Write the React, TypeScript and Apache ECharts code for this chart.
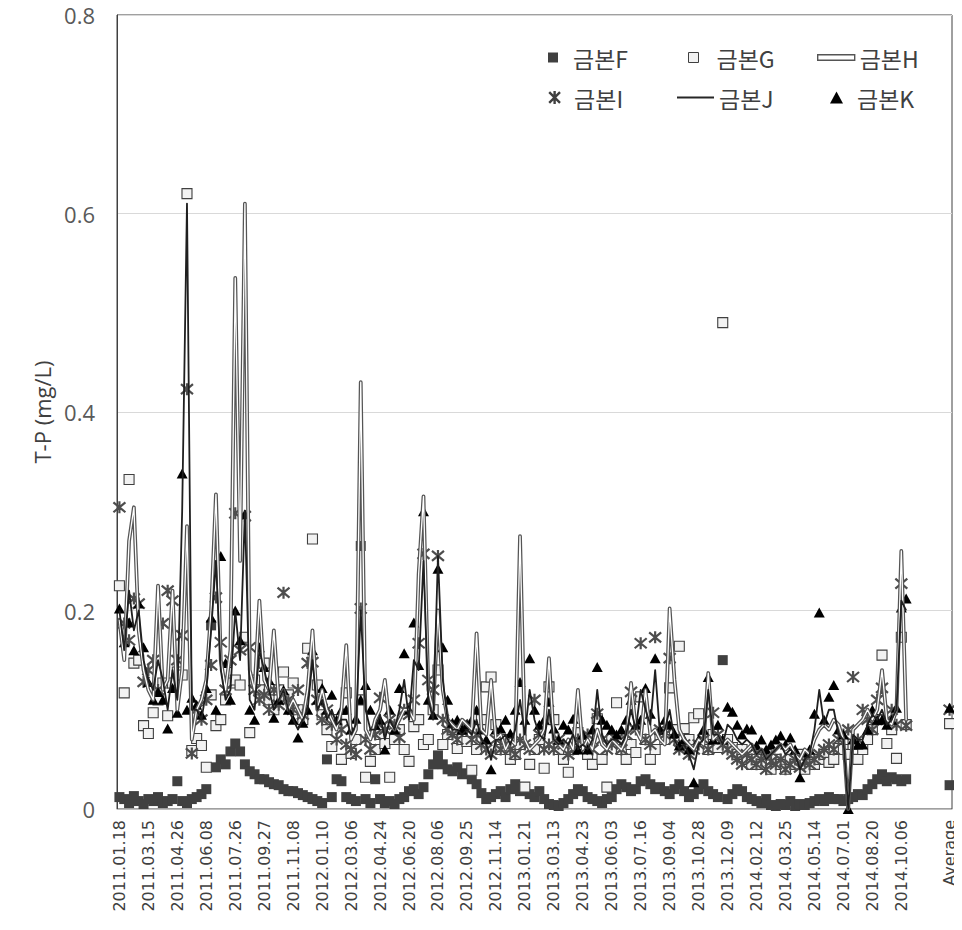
import React, { useEffect, useRef } from 'react';
import * as echarts from 'echarts';

// x-axis tick labels (one every 6 sampling dates) and the final "Average" category
const tickLabels = [
  '2011.01.18', '2011.03.15', '2011.04.26', '2011.06.08', '2011.07.26', '2011.09.27', '2011.11.08',
  '2012.01.10', '2012.03.06', '2012.04.24', '2012.06.20', '2012.08.06', '2012.09.25', '2012.11.14',
  '2013.01.21', '2013.03.13', '2013.04.23', '2013.06.03', '2013.07.16', '2013.09.04', '2013.10.28',
  '2013.12.09', '2014.02.12', '2014.03.25', '2014.05.14', '2014.07.01', '2014.08.20', '2014.10.06',
];
const averageLabel = 'Average';
const labelStep = 6;
const averageIndex = 172;

const seriesNames = ['금본F', '금본G', '금본H', '금본I', '금본J', '금본K'];

const valuesF = [
  0.012, 0.01, 0.006, 0.013, 0.008, 0.005,
  0.01, 0.008, 0.012, 0.006, 0.008, 0.01,
  0.028, 0.008, 0.006, 0.01, 0.012, 0.015,
  0.02, 0.185, 0.042, 0.05, 0.045, 0.058,
  0.066, 0.058, 0.045, 0.038, 0.035, 0.03,
  0.03, 0.027, 0.025, 0.024, 0.02, 0.018,
  0.018, 0.016, 0.014, 0.012, 0.01, 0.008,
  0.006, 0.05, 0.012, 0.03, 0.028, 0.012,
  0.01, 0.008, 0.265, 0.01, 0.006, 0.03,
  0.01, 0.006, 0.008, 0.005, 0.01, 0.012,
  0.018, 0.02, 0.015, 0.022, 0.035, 0.045,
  0.054, 0.045, 0.04, 0.038, 0.042, 0.035,
  0.036, 0.03, 0.025, 0.016, 0.01, 0.012,
  0.015, 0.018, 0.012, 0.02, 0.025, 0.018,
  0.02, 0.015, 0.012, 0.018, 0.01, 0.005,
  0.004, 0.003, 0.006, 0.01, 0.015, 0.02,
  0.018, 0.012, 0.01, 0.008, 0.006, 0.01,
  0.012, 0.02, 0.025, 0.022, 0.018, 0.02,
  0.028, 0.03, 0.025, 0.02, 0.022, 0.018,
  0.015, 0.02, 0.025, 0.018, 0.012, 0.015,
  0.02, 0.025, 0.018, 0.015, 0.012, 0.15,
  0.01, 0.015, 0.02, 0.018, 0.012, 0.01,
  0.008, 0.006, 0.01, 0.004, 0.003, 0.005,
  0.004, 0.008, 0.003, 0.005, 0.004, 0.006,
  0.008, 0.01, 0.008, 0.012, 0.01, 0.01,
  0.008, 0.01, 0.012, 0.015, 0.014, 0.02,
  0.025, 0.03, 0.035, 0.028, 0.032, 0.03,
  0.028, 0.03,
];

const valuesG = [
  0.225, 0.117, 0.332, 0.147, 0.15, 0.084,
  0.076, 0.097, 0.11, 0.127, 0.094, 0.127,
  0.138, 0.135, 0.62, 0.059, 0.071, 0.064,
  0.042, 0.115, 0.084, 0.09, 0.11, 0.127,
  0.13, 0.125, 0.173, 0.077, 0.13, 0.12,
  0.147, 0.11, 0.1, 0.12, 0.138, 0.115,
  0.127, 0.1, 0.09, 0.162, 0.272, 0.125,
  0.095, 0.08, 0.063, 0.09, 0.05, 0.117,
  0.056, 0.07, 0.11, 0.032, 0.048, 0.06,
  0.075, 0.066, 0.032, 0.07, 0.08, 0.06,
  0.048, 0.083, 0.09, 0.065, 0.07, 0.1,
  0.14, 0.065, 0.075, 0.08, 0.061, 0.07,
  0.068, 0.039, 0.06, 0.09, 0.123, 0.133,
  0.085, 0.06, 0.07, 0.05, 0.055, 0.065,
  0.022, 0.045, 0.06, 0.07, 0.041, 0.123,
  0.09, 0.06, 0.05, 0.037, 0.06, 0.077,
  0.065, 0.055, 0.045, 0.091, 0.05, 0.022,
  0.07, 0.107, 0.06, 0.05, 0.065, 0.057,
  0.113, 0.07, 0.05, 0.06, 0.075, 0.07,
  0.122, 0.08, 0.164, 0.081, 0.07, 0.092,
  0.096, 0.07, 0.06, 0.075, 0.062, 0.49,
  0.07, 0.062, 0.055, 0.06, 0.05, 0.045,
  0.05, 0.045, 0.055, 0.04, 0.05, 0.045,
  0.04, 0.05, 0.045, 0.055, 0.04, 0.05,
  0.045, 0.05, 0.055, 0.047, 0.05, 0.061,
  0.06, 0.055, 0.065, 0.05, 0.06, 0.07,
  0.08, 0.09, 0.155, 0.066, 0.08, 0.051,
  0.173, 0.085,
];

const valuesH = [
  0.19, 0.15, 0.27, 0.304, 0.18, 0.14,
  0.12, 0.11, 0.225, 0.12, 0.13, 0.22,
  0.1, 0.14, 0.285, 0.07, 0.1, 0.11,
  0.13, 0.2, 0.317, 0.15, 0.12, 0.16,
  0.535, 0.25, 0.61, 0.14, 0.12, 0.21,
  0.13, 0.12, 0.18, 0.11, 0.12, 0.1,
  0.11, 0.1, 0.09, 0.12, 0.18, 0.1,
  0.12, 0.1, 0.09, 0.08, 0.1, 0.165,
  0.07, 0.08, 0.43, 0.08, 0.07, 0.09,
  0.1, 0.13, 0.085, 0.08, 0.09, 0.1,
  0.1, 0.09, 0.237, 0.315, 0.12, 0.1,
  0.2, 0.12, 0.09, 0.085, 0.08, 0.09,
  0.085, 0.08, 0.177, 0.08, 0.075, 0.13,
  0.07, 0.075, 0.06, 0.07, 0.065, 0.275,
  0.07, 0.06, 0.065, 0.07, 0.08, 0.152,
  0.07, 0.065, 0.06, 0.07, 0.06, 0.12,
  0.06, 0.07, 0.06, 0.08, 0.065, 0.06,
  0.07, 0.065, 0.06, 0.07, 0.127, 0.08,
  0.07, 0.12, 0.075, 0.08, 0.07, 0.065,
  0.202, 0.13, 0.08, 0.07, 0.065, 0.06,
  0.07, 0.065, 0.137, 0.07, 0.075, 0.065,
  0.07, 0.065, 0.06, 0.055, 0.06, 0.065,
  0.055, 0.06, 0.05, 0.055, 0.06, 0.065,
  0.06, 0.065, 0.055, 0.05, 0.06, 0.055,
  0.07, 0.08, 0.085, 0.08, 0.09, 0.085,
  0.07, 0.0, 0.08, 0.085, 0.09, 0.1,
  0.09, 0.1, 0.14, 0.09, 0.085, 0.1,
  0.26, 0.09,
];

const valuesI = [
  0.304, 0.187, 0.17, 0.212, 0.207, 0.128,
  0.14, 0.15, 0.12, 0.187, 0.22, 0.21,
  0.15, 0.175, 0.423, 0.056, 0.1, 0.09,
  0.11, 0.145, 0.213, 0.168, 0.12, 0.15,
  0.298, 0.16, 0.295, 0.163, 0.12, 0.11,
  0.115, 0.1, 0.12, 0.105, 0.218, 0.11,
  0.1, 0.12, 0.095, 0.147, 0.148, 0.11,
  0.09, 0.1, 0.085, 0.07, 0.08, 0.065,
  0.06, 0.055, 0.202, 0.07, 0.06, 0.075,
  0.112, 0.08, 0.09, 0.085, 0.072, 0.1,
  0.095, 0.11, 0.167, 0.257, 0.13, 0.12,
  0.255, 0.09, 0.08, 0.075, 0.07, 0.085,
  0.08, 0.07, 0.075, 0.065, 0.06, 0.055,
  0.07, 0.06, 0.065, 0.06, 0.055, 0.07,
  0.065, 0.06, 0.11, 0.075, 0.06, 0.065,
  0.06, 0.07, 0.065, 0.055, 0.06, 0.07,
  0.065, 0.075, 0.06, 0.096, 0.07, 0.06,
  0.065, 0.07, 0.06, 0.075, 0.118, 0.08,
  0.167, 0.07, 0.065, 0.173, 0.08, 0.075,
  0.152, 0.07, 0.06, 0.065, 0.055, 0.06,
  0.065, 0.07, 0.06, 0.097, 0.075, 0.065,
  0.06, 0.055, 0.05, 0.045, 0.055, 0.05,
  0.045, 0.05, 0.04, 0.048, 0.045, 0.05,
  0.04, 0.045, 0.05, 0.042, 0.048, 0.045,
  0.05, 0.055, 0.06, 0.065, 0.06, 0.07,
  0.075, 0.08, 0.133, 0.07, 0.1, 0.09,
  0.08, 0.11, 0.122, 0.09, 0.1, 0.085,
  0.227, 0.084,
];

const valuesJ = [
  0.2, 0.16, 0.22, 0.18, 0.2, 0.15,
  0.13, 0.12, 0.15, 0.13, 0.1, 0.14,
  0.11, 0.3, 0.61, 0.1, 0.1, 0.09,
  0.12, 0.18, 0.25, 0.14, 0.11, 0.12,
  0.2, 0.15, 0.3, 0.11, 0.1, 0.16,
  0.14, 0.12, 0.1, 0.11, 0.12, 0.1,
  0.09, 0.08, 0.09, 0.1, 0.15, 0.1,
  0.11, 0.09, 0.1, 0.085, 0.09, 0.09,
  0.075, 0.085, 0.2, 0.1, 0.08, 0.08,
  0.095, 0.07, 0.09, 0.08, 0.1, 0.13,
  0.09, 0.15, 0.14, 0.25, 0.11, 0.09,
  0.255, 0.13, 0.09, 0.08, 0.08, 0.075,
  0.08, 0.075, 0.09, 0.07, 0.065, 0.05,
  0.07, 0.07, 0.075, 0.065, 0.08, 0.11,
  0.075, 0.12, 0.09, 0.075, 0.07, 0.1,
  0.07, 0.065, 0.07, 0.065, 0.075, 0.06,
  0.065, 0.06, 0.07, 0.12, 0.075, 0.065,
  0.07, 0.07, 0.065, 0.075, 0.1, 0.08,
  0.12, 0.1, 0.085, 0.14, 0.075, 0.08,
  0.1, 0.07, 0.06, 0.065, 0.055, 0.04,
  0.065, 0.07, 0.12, 0.075, 0.075, 0.065,
  0.085, 0.08, 0.07, 0.065, 0.07, 0.065,
  0.055, 0.06, 0.05, 0.055, 0.06, 0.065,
  0.055, 0.06, 0.055, 0.04, 0.05, 0.055,
  0.08, 0.12, 0.085, 0.1, 0.1, 0.075,
  0.07, 0.0, 0.075, 0.07, 0.07, 0.085,
  0.095, 0.09, 0.1, 0.085, 0.09, 0.1,
  0.21, 0.2,
];

const valuesK = [
  0.202, 0.168, 0.188, 0.16, 0.207, 0.163,
  0.128, 0.11, 0.118, 0.11, 0.081, 0.122,
  0.097, 0.338, 0.1, 0.112, 0.105, 0.095,
  0.122, 0.193, 0.1, 0.255, 0.147, 0.11,
  0.2, 0.17, 0.297, 0.1, 0.09, 0.163,
  0.143, 0.13, 0.092, 0.11, 0.12, 0.1,
  0.09, 0.072, 0.087, 0.1, 0.16, 0.11,
  0.122, 0.1, 0.115, 0.09, 0.1, 0.1,
  0.08, 0.091, 0.11, 0.125, 0.1, 0.085,
  0.09, 0.06, 0.1, 0.08, 0.122, 0.157,
  0.1, 0.188, 0.145, 0.3, 0.11, 0.095,
  0.242, 0.163, 0.11, 0.087, 0.09, 0.08,
  0.085, 0.09, 0.1, 0.08, 0.07, 0.04,
  0.08, 0.081, 0.09, 0.076, 0.1, 0.128,
  0.09, 0.152, 0.1, 0.085, 0.09, 0.108,
  0.081, 0.07, 0.085, 0.08, 0.091, 0.06,
  0.075, 0.06, 0.08, 0.143, 0.09, 0.085,
  0.08, 0.075, 0.08, 0.09, 0.11, 0.085,
  0.09, 0.122, 0.096, 0.152, 0.08, 0.09,
  0.085, 0.076, 0.064, 0.07, 0.06, 0.027,
  0.07, 0.08, 0.133, 0.07, 0.085, 0.07,
  0.103, 0.098, 0.085, 0.075, 0.081, 0.08,
  0.064, 0.07, 0.06, 0.065, 0.07, 0.074,
  0.065, 0.072, 0.06, 0.032, 0.057, 0.06,
  0.096, 0.198, 0.09, 0.113, 0.125, 0.08,
  0.075, 0.0, 0.07, 0.065, 0.065, 0.08,
  0.1, 0.09, 0.09, 0.085, 0.09, 0.102,
  0.203, 0.212,
];

// averages in series order F, G, H, I, J, K
const averageValues = [0.024, 0.086, 0.103, 0.1, 0.1, 0.102];

const ASTERISK = 'path://M0,0L10,10M10,0L0,10M5,-1L5,11';
const DOUBLE_LINE = 'path://M0,0H40V6H0Z';

function buildCategories(): string[] {
  const cats: string[] = [];
  for (let i = 0; i <= averageIndex; i++) {
    if (i === averageIndex) cats.push(averageLabel);
    else if (i % labelStep === 0 && i / labelStep < tickLabels.length) cats.push(tickLabels[i / labelStep]);
    else cats.push('_' + i);
  }
  return cats;
}

function withAverage(values: number[], avg: number): (number | null)[] {
  const out: (number | null)[] = [];
  for (let i = 0; i <= averageIndex; i++) {
    if (i < values.length) out.push(values[i]);
    else if (i === averageIndex) out.push(avg);
    else out.push(null);
  }
  return out;
}

export default function App() {
  const ref = useRef<HTMLDivElement>(null);

  useEffect(() => {
    if (!ref.current) return;
    const chart = echarts.init(ref.current, undefined, { renderer: 'svg' });
    const categories = buildCategories();
    const legendFont = { fontFamily: 'Noto Sans CJK KR', fontSize: 23, color: '#404040' };
    const legendBase = { padding: 0, selectedMode: false };

    const option: any = {
      animation: false,
      backgroundColor: '#ffffff',
      grid: {
        left: 117, right: 10, top: 15, bottom: 121,
        show: true, borderColor: '#404040', borderWidth: 1, backgroundColor: 'transparent',
      },
      xAxis: {
        type: 'category',
        data: categories,
        boundaryGap: true,
        axisLine: { show: true, lineStyle: { color: '#bfbfbf', width: 1 } },
        axisTick: { show: false },
        splitLine: { show: false },
        axisLabel: {
          interval: (_i: number, v: string) => !String(v).startsWith('_'),
          formatter: (v: string) => (String(v).startsWith('_') ? '' : v),
          rotate: 90,
          fontFamily: 'DejaVu Sans',
          fontSize: 16,
          color: '#404040',
          margin: 11,
        },
      },
      yAxis: {
        type: 'value',
        min: 0, max: 0.8, interval: 0.2,
        name: 'T-P (mg/L)',
        nameLocation: 'middle',
        nameGap: 60,
        nameTextStyle: { fontFamily: 'Open Sans', fontSize: 22, color: '#404040' },
        axisLine: { show: true, lineStyle: { color: '#404040' } },
        axisTick: { show: false },
        axisLabel: {
          formatter: (v: number) => (v === 0 ? '0' : v.toFixed(1)),
          fontFamily: 'Open Sans', fontSize: 22, color: '#595959', margin: 22,
        },
        splitLine: { show: true, lineStyle: { color: '#d9d9d9', width: 1 } },
      },
      legend: [
        {
          ...legendBase,
          data: [{ name: seriesNames[0], icon: 'rect', itemStyle: { color: '#404040', borderWidth: 0 } }],
          left: 548, top: 46, itemWidth: 10, itemHeight: 10,
          textStyle: { ...legendFont, padding: [0, 0, 0, 10] },
        },
        {
          ...legendBase,
          data: [{ name: seriesNames[1], icon: 'rect', itemStyle: { color: '#f2f2f2', borderColor: '#404040', borderWidth: 1 } }],
          left: 688, top: 46, itemWidth: 10, itemHeight: 10,
          textStyle: { ...legendFont, padding: [0, 0, 0, 13] },
        },
        {
          ...legendBase,
          data: [{ name: seriesNames[2], icon: DOUBLE_LINE, itemStyle: { color: '#ffffff', borderColor: '#555555', borderWidth: 1.4 } }],
          left: 817, top: 46, itemWidth: 37, itemHeight: 6,
          textStyle: { ...legendFont },
        },
        {
          ...legendBase,
          data: [{ name: seriesNames[3], icon: ASTERISK, itemStyle: { color: 'rgba(0,0,0,0)', borderColor: '#404040', borderWidth: 2.4 } }],
          left: 548, top: 86, itemWidth: 13, itemHeight: 13,
          textStyle: { ...legendFont, padding: [0, 0, 0, 8] },
        },
        {
          ...legendBase,
          data: [{ name: seriesNames[4], icon: 'rect', itemStyle: { color: '#262626', borderWidth: 0 } }],
          left: 677, top: 86, itemWidth: 37, itemHeight: 2,
          textStyle: { ...legendFont },
        },
        {
          ...legendBase,
          data: [{ name: seriesNames[5], icon: 'triangle', itemStyle: { color: '#000000', borderWidth: 0 } }],
          left: 830, top: 86, itemWidth: 13, itemHeight: 12,
          textStyle: { ...legendFont, padding: [0, 0, 0, 9] },
        },
      ],
      series: [
        {
          name: seriesNames[0], type: 'scatter', symbol: 'rect', symbolSize: 10,
          data: withAverage(valuesF, averageValues[0]),
          itemStyle: { color: '#404040', opacity: 1 },
        },
        {
          name: seriesNames[1], type: 'scatter', symbol: 'rect', symbolSize: 10,
          data: withAverage(valuesG, averageValues[1]),
          itemStyle: { color: '#f2f2f2', borderColor: '#404040', borderWidth: 1.1, opacity: 1 },
        },
        {
          name: seriesNames[2], type: 'line', symbol: 'none', connectNulls: false,
          data: withAverage(valuesH, averageValues[2]),
          lineStyle: { color: '#555555', width: 3.8, join: 'round', cap: 'round' },
          itemStyle: { color: '#555555' },
        },
        {
          name: '금본H-inner', type: 'line', symbol: 'none', connectNulls: false,
          data: withAverage(valuesH, averageValues[2]),
          lineStyle: { color: '#ffffff', width: 1.3, join: 'round', cap: 'round' },
          itemStyle: { color: '#ffffff' },
        },
        {
          name: seriesNames[3], type: 'scatter', symbol: ASTERISK, symbolSize: 12,
          data: withAverage(valuesI, averageValues[3]),
          itemStyle: { color: 'rgba(0,0,0,0)', borderColor: '#4d4d4d', borderWidth: 2.2, opacity: 1 },
        },
        {
          name: seriesNames[4], type: 'line', symbol: 'none', connectNulls: false,
          data: withAverage(valuesJ, averageValues[4]),
          lineStyle: { color: '#1f1f1f', width: 1.8, join: 'round' },
          itemStyle: { color: '#1f1f1f' },
        },
        {
          name: seriesNames[5], type: 'scatter', symbol: 'triangle', symbolSize: [11, 10],
          data: withAverage(valuesK, averageValues[5]),
          itemStyle: { color: '#000000', opacity: 1 },
        },
      ],
    };

    chart.setOption(option);
    return () => chart.dispose();
  }, []);

  return <div ref={ref} style={{ width: 962, height: 930, marginLeft: -8, marginTop: -8 }} />;
}
